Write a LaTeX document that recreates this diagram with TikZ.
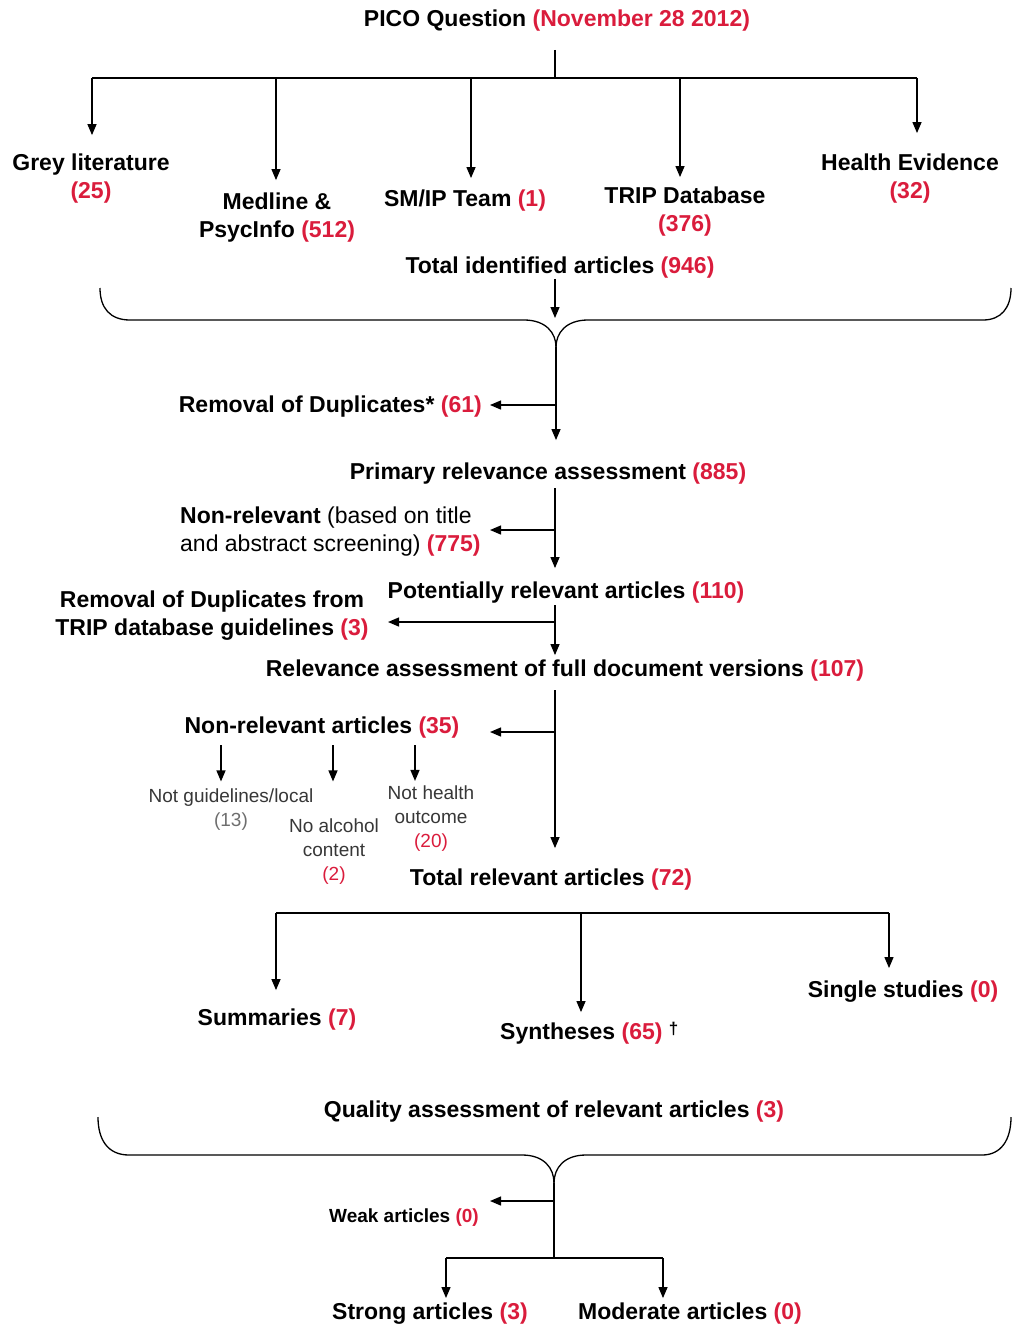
\documentclass[tikz,border=0pt]{standalone}
\usepackage{fontspec}
\setmainfont{Liberation Sans}
\usetikzlibrary{arrows.meta}
\definecolor{rednum}{RGB}{218,28,60}
\definecolor{smallgray}{RGB}{55,55,55}
\definecolor{numgray}{RGB}{110,110,110}
\newcommand{\rnum}[1]{\textcolor{rednum}{#1}}
\newcommand{\dagmark}{\smash{\raisebox{5pt}{\bfseries\fontsize{17}{17}\selectfont †}}}
\begin{document}
\begin{tikzpicture}[x=1pt,y=-1pt,
  lbl/.style={inner sep=0pt, font=\fontsize{23}{28}\selectfont\bfseries, align=center},
  lbll/.style={inner sep=0pt, font=\fontsize{23}{28}\selectfont\bfseries, align=left},
  sm/.style={inner sep=0pt, font=\fontsize{19}{24}\selectfont, text=smallgray, align=center},
  smb/.style={inner sep=0pt, font=\fontsize{19}{24}\selectfont\bfseries},
  ln/.style={line width=1.3pt, draw=black},
  arr/.style={ln, -{Triangle[length=11pt,width=9pt]}}]
\useasboundingbox (0,0) rectangle (1013,1327);

% ---------- nodes ----------
\node[lbl] (pico) at (557,21) {PICO Question \rnum{(November 28 2012)}};
\node[lbl] (grey) at (91,179) {Grey literature\\\rnum{(25)}};
\node[lbl] (med) at (277,218) {Medline \&\\PsycInfo \rnum{(512)}};
\node[lbl] (smip) at (465,201) {SM/IP Team \rnum{(1)}};
\node[lbl] (trip) at (685,212) {TRIP Database\\\rnum{(376)}};
\node[lbl] (hev) at (910,179) {Health Evidence\\\rnum{(32)}};
\node[lbl] (tot) at (560,268) {Total identified articles \rnum{(946)}};
\node[lbl, anchor=east] (dup1) at (482,407) {Removal of Duplicates* \rnum{(61)}};
\node[lbl] (prim) at (548,474) {Primary relevance assessment \rnum{(885)}};
\node[lbll, anchor=west] (nonrel) at (180,532) {Non-relevant {\mdseries (based on title}\\{\mdseries and abstract screening)} \rnum{(775)}};
\node[lbl] (pot) at (566,593) {Potentially relevant articles \rnum{(110)}};
\node[lbl] (dup2) at (212,616) {Removal of Duplicates from\\TRIP database guidelines \rnum{(3)}};
\node[lbl] (rel) at (565,671) {Relevance assessment of full document versions \rnum{(107)}};
\node[lbl] (nr2) at (322,728) {Non-relevant articles \rnum{(35)}};
\node[sm] (ng) at (231,809.5) {Not guidelines/local\\\textcolor{numgray}{(13)}};
\node[sm] (na) at (334,851.5) {No alcohol\\content\\\rnum{(2)}};
\node[sm] (nh) at (431,819) {Not health\\outcome\\\rnum{(20)}};
\node[lbl] (trel) at (551,880) {Total relevant articles \rnum{(72)}};
\node[lbl] (summ) at (277,1020) {Summaries \rnum{(7)}};
\node[lbl, anchor=west] (syn) at (500,1034) {Syntheses \rnum{(65)} \dagmark};
\node[lbl] (single) at (903,992) {Single studies \rnum{(0)}};
\node[lbl] (qual) at (554,1112) {Quality assessment of relevant articles \rnum{(3)}};
\node[smb] (weak) at (404,1218) {Weak articles \rnum{(0)}};
\node[lbl] (strong) at (430,1314) {Strong articles \rnum{(3)}};
\node[lbl] (mod) at (690,1314) {Moderate articles \rnum{(0)}};

% ---------- junction coordinates ----------
\coordinate (j0) at (555,50);
\coordinate (a1) at (92,78);
\coordinate (a2) at (276,78);
\coordinate (a3) at (471,78);
\coordinate (a4) at (680,78);
\coordinate (a5) at (917,78);
\coordinate (b1m) at (555,320);
\coordinate (b1tip) at (556,347);
\coordinate (d1) at (556,405);
\coordinate (d1e) at (490,405);
\coordinate (v2) at (555,488);
\coordinate (d2) at (555,530);
\coordinate (d2e) at (490,530);
\coordinate (v3) at (555,605);
\coordinate (d3) at (555,622);
\coordinate (d3e) at (388,622);
\coordinate (v4) at (555,690);
\coordinate (d4) at (555,732);
\coordinate (d4e) at (490,732);
\coordinate (s1) at (221,745);
\coordinate (s2) at (333,745);
\coordinate (s3) at (415,745);
\coordinate (t1) at (276,913);
\coordinate (t2) at (581,913);
\coordinate (t3) at (889,913);
\coordinate (b2tip) at (554,1183);
\coordinate (w0) at (554,1201);
\coordinate (w0e) at (490,1201);
\coordinate (bj) at (554,1258);
\coordinate (bl) at (446,1258);
\coordinate (br) at (663,1258);

% ---------- top tree ----------
\draw[ln] (j0) -- (j0 |- a1);
\draw[ln] (a1) -- (a5);
\draw[arr, shorten >=19pt] (a1) -- (a1 |- grey.north);
\draw[arr, shorten >=13pt] (a2) -- (a2 |- med.north);
\draw[arr, shorten >=12pt] (a3) -- (a3 |- smip.north);
\draw[arr, shorten >=10pt] (a4) -- (a4 |- trip.north);
\draw[arr, shorten >=21pt] (a5) -- (a5 |- hev.north);
\draw[arr, shorten >=2pt] (tot.south -| b1m) -- (b1m);

% ---------- brace 1 ----------
\draw[ln] (100,288) .. controls (100,308) and (110,320) .. (130,320) -- (524,320)
  .. controls (546,320) and (556,333) .. (b1tip);
\draw[ln] (1011,288) .. controls (1011,308) and (1001,320) .. (983,320) -- (588,320)
  .. controls (566,320) and (556,333) .. (b1tip);

% ---------- main flow ----------
\draw[arr, shorten >=23pt] (b1tip) -- (b1tip |- prim.north);
\draw[arr] (d1) -- (d1e);
\draw[arr, shorten >=14pt] (v2) -- (v2 |- pot.north);
\draw[arr] (d2) -- (d2e);
\draw[arr, shorten >=5pt] (v3) -- (v3 |- rel.north);
\draw[arr] (d3) -- (d3e);
\draw[arr, shorten >=21pt] (v4) -- (v4 |- trel.north);
\draw[arr] (d4) -- (d4e);
\draw[arr, shorten >=7pt] (s1) -- (s1 |- ng.north);
\draw[arr, shorten >=37pt] (s2) -- (s2 |- na.north);
\draw[arr, shorten >=5pt] (s3) -- (s3 |- nh.north);

% ---------- article types ----------
\draw[ln] (t1) -- (t3);
\draw[arr, shorten >=19pt] (t1) -- (t1 |- summ.north);
\draw[arr, shorten >=11pt] (t2) -- (t2 |- syn.north);
\draw[arr, shorten >=13pt] (t3) -- (t3 |- single.north);

% ---------- brace 2 ----------
\draw[ln] (98,1117) .. controls (98,1140) and (108,1155) .. (129,1155) -- (522,1155)
  .. controls (544,1155) and (554,1168) .. (b2tip);
\draw[ln] (1011,1117) .. controls (1011,1140) and (1001,1155) .. (982,1155) -- (586,1155)
  .. controls (564,1155) and (554,1168) .. (b2tip);

% ---------- quality ----------
\draw[ln] (b2tip) -- (bj);
\draw[arr] (w0) -- (w0e);
\draw[ln] (bl) -- (br);
\draw[arr, shorten >=5pt] (bl) -- (bl |- strong.north);
\draw[arr, shorten >=5pt] (br) -- (br |- mod.north);
\end{tikzpicture}
\end{document}
